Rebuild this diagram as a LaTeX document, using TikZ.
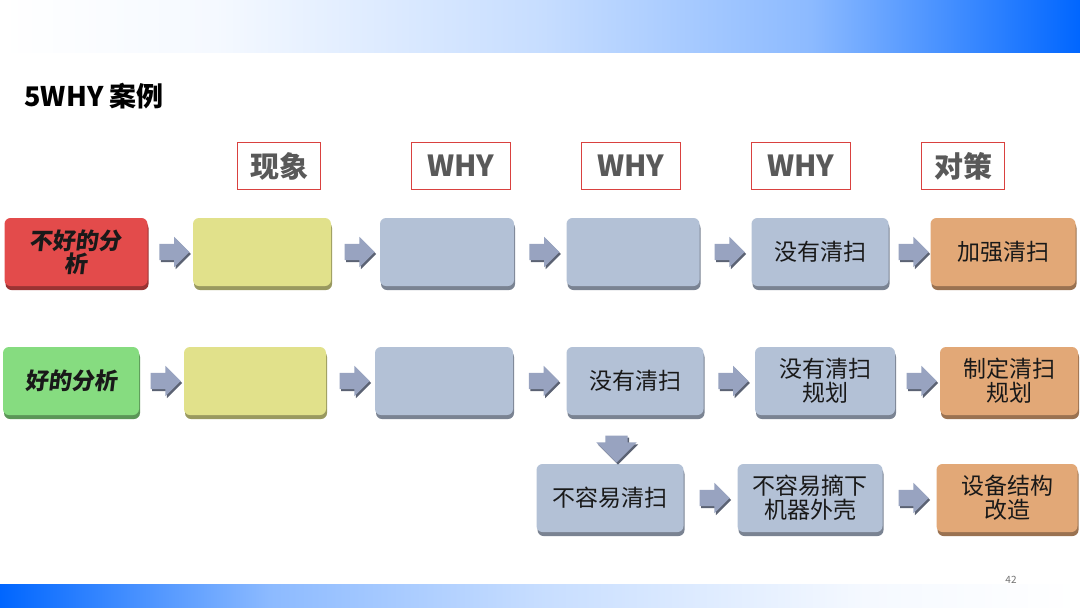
\documentclass[tikz,border=0pt]{standalone}
\usepackage{fontspec}
\setmainfont{Noto Sans CJK SC}
\newfontfamily\slantcjk{Noto Sans CJK SC}[FakeSlant=0.12]
\usetikzlibrary{shapes.arrows,shadows,calc}

\definecolor{barblue}{HTML}{0066FF}
\definecolor{slabred}{HTML}{E34B4B}
\definecolor{slabyellow}{HTML}{E1E18B}
\definecolor{slabgray}{HTML}{B3C1D6}
\definecolor{slabgreen}{HTML}{86DC80}
\definecolor{slaborange}{HTML}{E2A877}
\definecolor{arrowgray}{HTML}{98A3C0}
\definecolor{headred}{HTML}{D9413F}
\definecolor{headtext}{HTML}{595959}

\pgfdeclarehorizontalshading{topbar}{100bp}{color(0bp)=(white); color(25bp)=(white); color(35bp)=(white!96!barblue); color(50bp)=(white!78!barblue); color(62.5bp)=(white!55!barblue); color(75bp)=(barblue); color(100bp)=(barblue)}
\pgfdeclarehorizontalshading{bottombar}{100bp}{color(0bp)=(barblue); color(25bp)=(barblue); color(37.5bp)=(white!55!barblue); color(50bp)=(white!78!barblue); color(65bp)=(white!96!barblue); color(75bp)=(white); color(100bp)=(white)}

\tikzset{
  slab/.style={rounded corners=6pt, minimum height=68pt, inner sep=2pt, align=center,
    font=\fontsize{23}{24}\selectfont, text=black!90, fill=#1,
    general shadow={fill=#1!68!black, shadow yshift=-4pt, shadow xshift=1pt}},
  lead/.style={slab=#1, font=\slantcjk\bfseries\fontsize{23}{23}\selectfont},
  head/.style={draw=headred, line width=0.9pt, fill=white, minimum height=47pt,
    text=headtext, font=\bfseries\fontsize{29}{29}\selectfont},
  flow/.style={single arrow, fill=arrowgray, inner xsep=0pt, inner ysep=8pt,
    minimum height=30pt, single arrow head extend=7pt,
    general shadow={fill=arrowgray!60!black, shadow xshift=1.5pt, shadow yshift=-2pt}}
}

\begin{document}
\begin{tikzpicture}[x=1pt,y=-1pt]
  \useasboundingbox (0,0) rectangle (1080,608);
  \fill[white] (0,0) rectangle (1080,608);
  \fill[shading=topbar] (0,0) rectangle (1080,52);
  \fill[shading=bottombar] (0,584) rectangle (1080,608);
  \node[text=black!55, font=\fontsize{10}{10}\selectfont] (page) at (1011,580) {42};

  \node[anchor=west, font=\bfseries\fontsize{27}{27}\selectfont] (title) at (21,96) {5WHY 案例};

  \node[head, minimum width=83pt] (hphen) at (279,166) {现象};
  \node[head, minimum width=99pt] (hwhyA) at (461,166) {WHY};
  \node[head, minimum width=99pt] (hwhyB) at (631,166) {WHY};
  \node[head, minimum width=99pt] (hwhyC) at (801,166) {WHY};
  \node[head, minimum width=83pt] (hfix) at (963,166) {对策};

  \node[lead=slabred, minimum width=143pt] (badlabel) at (76,252) {不好的分\\析};
  \node[slab=slabyellow, minimum width=138pt] (badphen) at (262,252) {};
  \node[slab=slabgray, minimum width=134pt] (badwhyA) at (447,252) {};
  \node[slab=slabgray, minimum width=133pt] (badwhyB) at (633,252) {};
  \node[slab=slabgray, minimum width=137pt] (badwhyC) at (820,252) {没有清扫};
  \node[slab=slaborange, minimum width=145pt] (badfix) at (1003,252) {加强清扫};

  \node[lead=slabgreen, minimum width=136pt] (goodlabel) at (71,381) {好的分析};
  \node[slab=slabyellow, minimum width=142pt] (goodphen) at (255,381) {};
  \node[slab=slabgray, minimum width=138pt] (goodwhyA) at (444,381) {};
  \node[slab=slabgray, minimum width=137pt] (goodwhyB) at (635,381) {没有清扫};
  \node[slab=slabgray, minimum width=140pt] (goodwhyC) at (825,381) {没有清扫\\规划};
  \node[slab=slaborange, minimum width=138pt] (goodfix) at (1009,381) {制定清扫\\规划};

  \node[slab=slabgray, minimum width=147pt] (deepwhyB) at (610,498) {不容易清扫};
  \node[slab=slabgray, minimum width=145pt] (deepwhyC) at (810,498) {不容易摘下\\机器外壳};
  \node[slab=slaborange, minimum width=141pt] (deepfix) at (1007,498) {设备结构\\改造};

  \foreach \a/\b in {badlabel/badphen,badphen/badwhyA,badwhyA/badwhyB,badwhyB/badwhyC,badwhyC/badfix,
    goodlabel/goodphen,goodphen/goodwhyA,goodwhyA/goodwhyB,goodwhyB/goodwhyC,goodwhyC/goodfix,
    deepwhyB/deepwhyC,deepwhyC/deepfix}
    \node[flow] at ($(\a.east)!0.5!(\b.west)$) {};
  \node[flow, rotate=-90, inner ysep=11pt, minimum height=27pt, single arrow head extend=9pt]
    at ($(goodwhyB.south)!0.5!(deepwhyB.north)+(-6,4)$) {};
\end{tikzpicture}
\end{document}
